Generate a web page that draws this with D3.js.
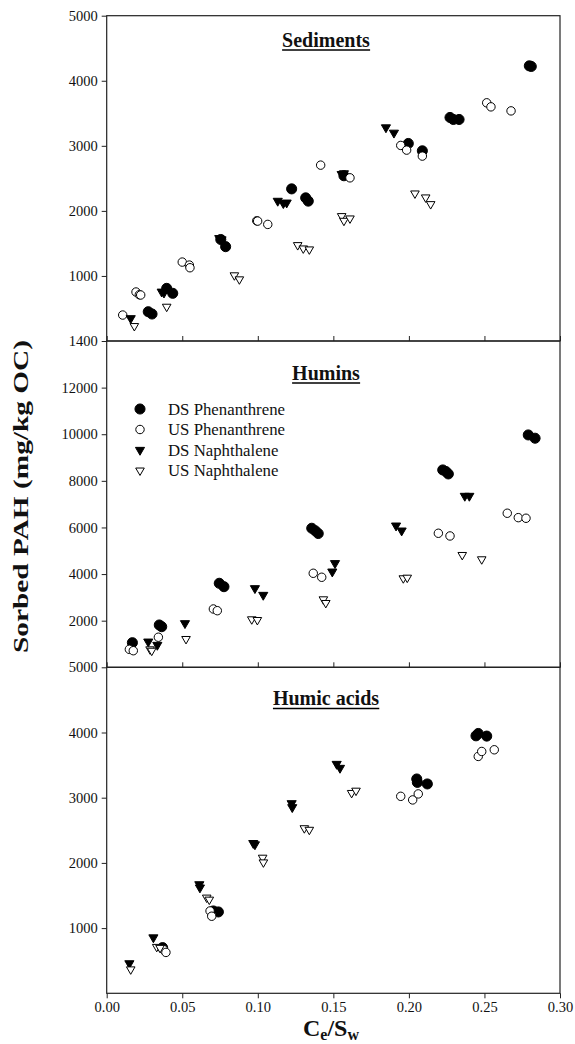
<!DOCTYPE html>
<html>
<head>
<meta charset="utf-8">
<script src="https://cdn.jsdelivr.net/npm/d3@7"></script>
<style>
  body { margin: 0; background: #fff; }
  svg text { font-family: "Liberation Serif", "Times New Roman", Times, serif; fill: #111; }
</style>
</head>
<body>
<svg id="chart"></svg>
<script>
// x axis ticks (shared)
const xTicks = [0, 0.05, 0.10, 0.15, 0.20, 0.25, 0.30];

// series names, legend order
const seriesNames = ["DS Phenanthrene", "US Phenanthrene", "DS Naphthalene", "US Naphthalene"];

// Sediments
const sedDsPhen = [[0.0275,450],[0.030,415],[0.0397,809],[0.0437,733],[0.0755,1560],[0.0787,1450],[0.1224,2338],[0.1317,2200],[0.1334,2150],[0.157,2540],[0.1996,3036],[0.2089,2923],[0.2272,3436],[0.2294,3405],[0.2332,3405],[0.2797,4229],[0.281,4220]];
const sedUsPhen = [[0.0106,399],[0.0194,753],[0.0216,711],[0.0225,707],[0.050,1213],[0.0547,1167],[0.0551,1126],[0.0993,1848],[0.0999,1843],[0.1066,1792],[0.1416,2703],[0.161,2508],[0.1946,3006],[0.1985,2934],[0.2089,2842],[0.2515,3661],[0.2543,3599],[0.2676,3537]];
const sedDsNaph = [[0.0159,349],[0.0364,757],[0.0379,742],[0.0745,1580],[0.076,1560],[0.1132,2153],[0.1169,2117],[0.1191,2126],[0.1555,2565],[0.157,2576],[0.1848,3282],[0.1901,3200]];
const sedUsNaph = [[0.0183,230],[0.0397,527],[0.0845,1010],[0.0878,948],[0.1264,1474],[0.1301,1423],[0.1341,1408],[0.1555,1920],[0.157,1848],[0.161,1884],[0.204,2268],[0.2111,2207],[0.2144,2104]];

// Humins
const humDsPhen = [[0.017,1056],[0.0348,1816],[0.0364,1742],[0.0745,3605],[0.0776,3459],[0.1357,5966],[0.138,5860],[0.140,5740],[0.2224,8468],[0.2245,8400],[0.2261,8296],[0.279,9970],[0.2835,9829]];
const humUsPhen = [[0.015,772],[0.0176,712],[0.0342,1290],[0.0706,2502],[0.0732,2429],[0.1367,4034],[0.1423,3863],[0.2195,5751],[0.2272,5635],[0.2651,6610],[0.2724,6421],[0.2775,6395]];
const humDsNaph = [[0.0275,1099],[0.0335,957],[0.0518,1888],[0.0981,3390],[0.1036,3103],[0.1511,4464],[0.1493,4103],[0.1915,6077],[0.1952,5863],[0.237,7352],[0.240,7352]];
const humUsNaph = [[0.0287,772],[0.0298,712],[0.0525,1215],[0.096,2060],[0.0997,2030],[0.1434,2918],[0.145,2760],[0.1963,3820],[0.1989,3846],[0.2353,4820],[0.2482,4635]];

// Humic acids
const haDsPhen = [[0.037,700],[0.0706,1263],[0.0739,1248],[0.2052,3287],[0.2056,3235],[0.2122,3211],[0.2444,3949],[0.2459,3985],[0.2515,3945]];
const haUsPhen = [[0.0375,673],[0.0392,627],[0.0684,1263],[0.0695,1182],[0.1946,3021],[0.2025,2966],[0.2062,3058],[0.2459,3633],[0.2482,3709],[0.2565,3735]];
const haDsNaph = [[0.015,459],[0.0309,856],[0.0613,1671],[0.0617,1621],[0.097,2303],[0.0981,2283],[0.1224,2914],[0.1228,2853],[0.1522,3517],[0.1544,3456]];
const haUsNaph = [[0.0159,367],[0.0331,712],[0.0353,697],[0.0662,1468],[0.0679,1437],[0.1032,2080],[0.1037,2008],[0.1308,2532],[0.1341,2508],[0.1621,3073],[0.165,3108]];

// y ticks + labels per panel (as printed; lower panel labels sit on the shared edges)
const sedYTicks = [1000, 2000, 3000, 4000, 5000];
const sedYLabels = ["1000", "2000", "3000", "4000", "5000"];
const humYTicks = [2000, 4000, 6000, 8000, 10000, 12000, 14000];
const humYLabels = ["2000", "4000", "6000", "8000", "10000", "12000", "1400"];
const haYTicks = [1000, 2000, 3000, 4000, 5000];
const haYLabels = ["1000", "2000", "3000", "4000", "5000"];

const panelTitles = ["Sediments", "Humins", "Humic acids"];
const panelYMax = [5000, 14000, 5000];

const width = 575, height = 1044;
const left = 106.7, right = 560;
const edges = [15.7, 341, 667.3, 993.3];

const svg = d3.select("#chart").attr("width", width).attr("height", height);

const x = d3.scaleLinear().domain([0, 0.30]).range([left, right]);

const panels = [
  { title: panelTitles[0], ymax: panelYMax[0], ticks: sedYTicks, labels: sedYLabels, titleY: 46.5, series: [sedDsPhen, sedUsPhen, sedDsNaph, sedUsNaph] },
  { title: panelTitles[1], ymax: panelYMax[1], ticks: humYTicks, labels: humYLabels, titleY: 379.5, series: [humDsPhen, humUsPhen, humDsNaph, humUsNaph] },
  { title: panelTitles[2], ymax: panelYMax[2], ticks: haYTicks, labels: haYLabels, titleY: 705, series: [haDsPhen, haUsPhen, haDsNaph, haUsNaph] }
];

// marker styles for the 4 series
const circleFilled = d3.symbol().type(d3.symbolCircle).size(80);
const circleOpen = d3.symbol().type(d3.symbolCircle).size(56);
const triFilled = d3.symbol().type(d3.symbolTriangle).size(36);
const triOpen = d3.symbol().type(d3.symbolTriangle).size(32);
const markers = [
  { path: circleFilled(), fill: "#000", stroke: "#000", rot: 0 },
  { path: circleOpen(), fill: "#fff", stroke: "#000", rot: 0 },
  { path: triFilled(), fill: "#000", stroke: "#000", rot: 180 },
  { path: triOpen(), fill: "#fff", stroke: "#000", rot: 180 }
];

panels.forEach((p, i) => {
  const top = edges[i], bottom = edges[i + 1];
  const y = d3.scaleLinear().domain([0, p.ymax]).range([bottom, top]);
  const g = svg.append("g");

  // y axis
  const ya = g.append("g")
    .attr("transform", `translate(${left},0)`)
    .call(d3.axisLeft(y).tickValues(p.ticks).tickFormat((d, k) => p.labels[k]).tickSize(5).tickPadding(4));
  ya.attr("font-family", null);
  ya.select(".domain").remove();
  ya.selectAll("text").style("font-size", "14.5px").attr("fill", "#111");
  ya.selectAll("line").attr("stroke", "#222");

  // x ticks on the top edge (panels 2 and 3) and bottom edge (panel 3)
  if (i > 0) {
    const xt = g.append("g")
      .attr("transform", `translate(0,${top})`)
      .call(d3.axisTop(x).tickValues(xTicks).tickFormat("").tickSize(5));
    xt.select(".domain").remove();
    xt.selectAll("line").attr("stroke", "#222");
  }
  if (i === panels.length - 1) {
    const xb = g.append("g")
      .attr("transform", `translate(0,${bottom})`)
      .call(d3.axisBottom(x).tickValues(xTicks).tickFormat(d3.format(".2f")).tickSize(5).tickPadding(3));
    xb.attr("font-family", null);
    xb.select(".domain").remove();
    xb.selectAll("text").style("font-size", "14.5px").attr("fill", "#111");
    xb.selectAll("line").attr("stroke", "#222");
  }

  // frame
  g.append("rect")
    .attr("x", left).attr("y", top)
    .attr("width", right - left).attr("height", bottom - top)
    .attr("fill", "none").attr("stroke", "#222").attr("stroke-width", 1.2);

  // title with underline
  const t = g.append("text")
    .attr("x", 326).attr("y", p.titleY)
    .attr("text-anchor", "middle")
    .style("font-size", "20px").style("font-weight", "bold")
    .text(p.title);
  const bb = t.node().getBBox();
  g.append("line")
    .attr("x1", bb.x).attr("x2", bb.x + bb.width)
    .attr("y1", p.titleY + 3.5).attr("y2", p.titleY + 3.5)
    .attr("stroke", "#000").attr("stroke-width", 1.6);

  // points
  p.series.forEach((s, k) => {
    const m = markers[k];
    g.append("g").selectAll("path")
      .data(s)
      .enter()
      .append("path")
      .attr("d", m.path)
      .attr("transform", d => `translate(${x(d[0])},${y(d[1])}) rotate(${m.rot})`)
      .attr("fill", m.fill)
      .attr("stroke", m.stroke)
      .attr("stroke-width", 1);
  });
});

// legend (in the Humins panel)
const legend = svg.append("g");
const legendRows = [409, 429.5, 450, 470.5];
seriesNames.forEach((name, k) => {
  const m = markers[k];
  legend.append("path")
    .attr("d", m.path)
    .attr("transform", `translate(140,${legendRows[k]}) rotate(${m.rot})`)
    .attr("fill", m.fill).attr("stroke", m.stroke).attr("stroke-width", 1);
  legend.append("text")
    .attr("x", 168).attr("y", legendRows[k] + 5.5)
    .style("font-size", "16.8px")
    .text(name);
});

// y label
svg.append("text")
  .attr("transform", "translate(28,496.5) rotate(-90)")
  .attr("text-anchor", "middle")
  .attr("textLength", 313)
  .attr("lengthAdjust", "spacingAndGlyphs")
  .style("font-size", "20px").style("font-weight", "bold")
  .text("Sorbed PAH (mg/kg OC)");

// x label C_e/S_w
const xl = svg.append("text")
  .attr("x", 331).attr("y", 1036)
  .attr("text-anchor", "middle")
  .style("font-size", "24px").style("font-weight", "bold");
xl.append("tspan").text("C");
xl.append("tspan").attr("dy", 4).style("font-size", "16px").text("e");
xl.append("tspan").attr("dy", -4).text("/S");
xl.append("tspan").attr("dy", 4).style("font-size", "16px").text("w");
</script>
</body>
</html>
